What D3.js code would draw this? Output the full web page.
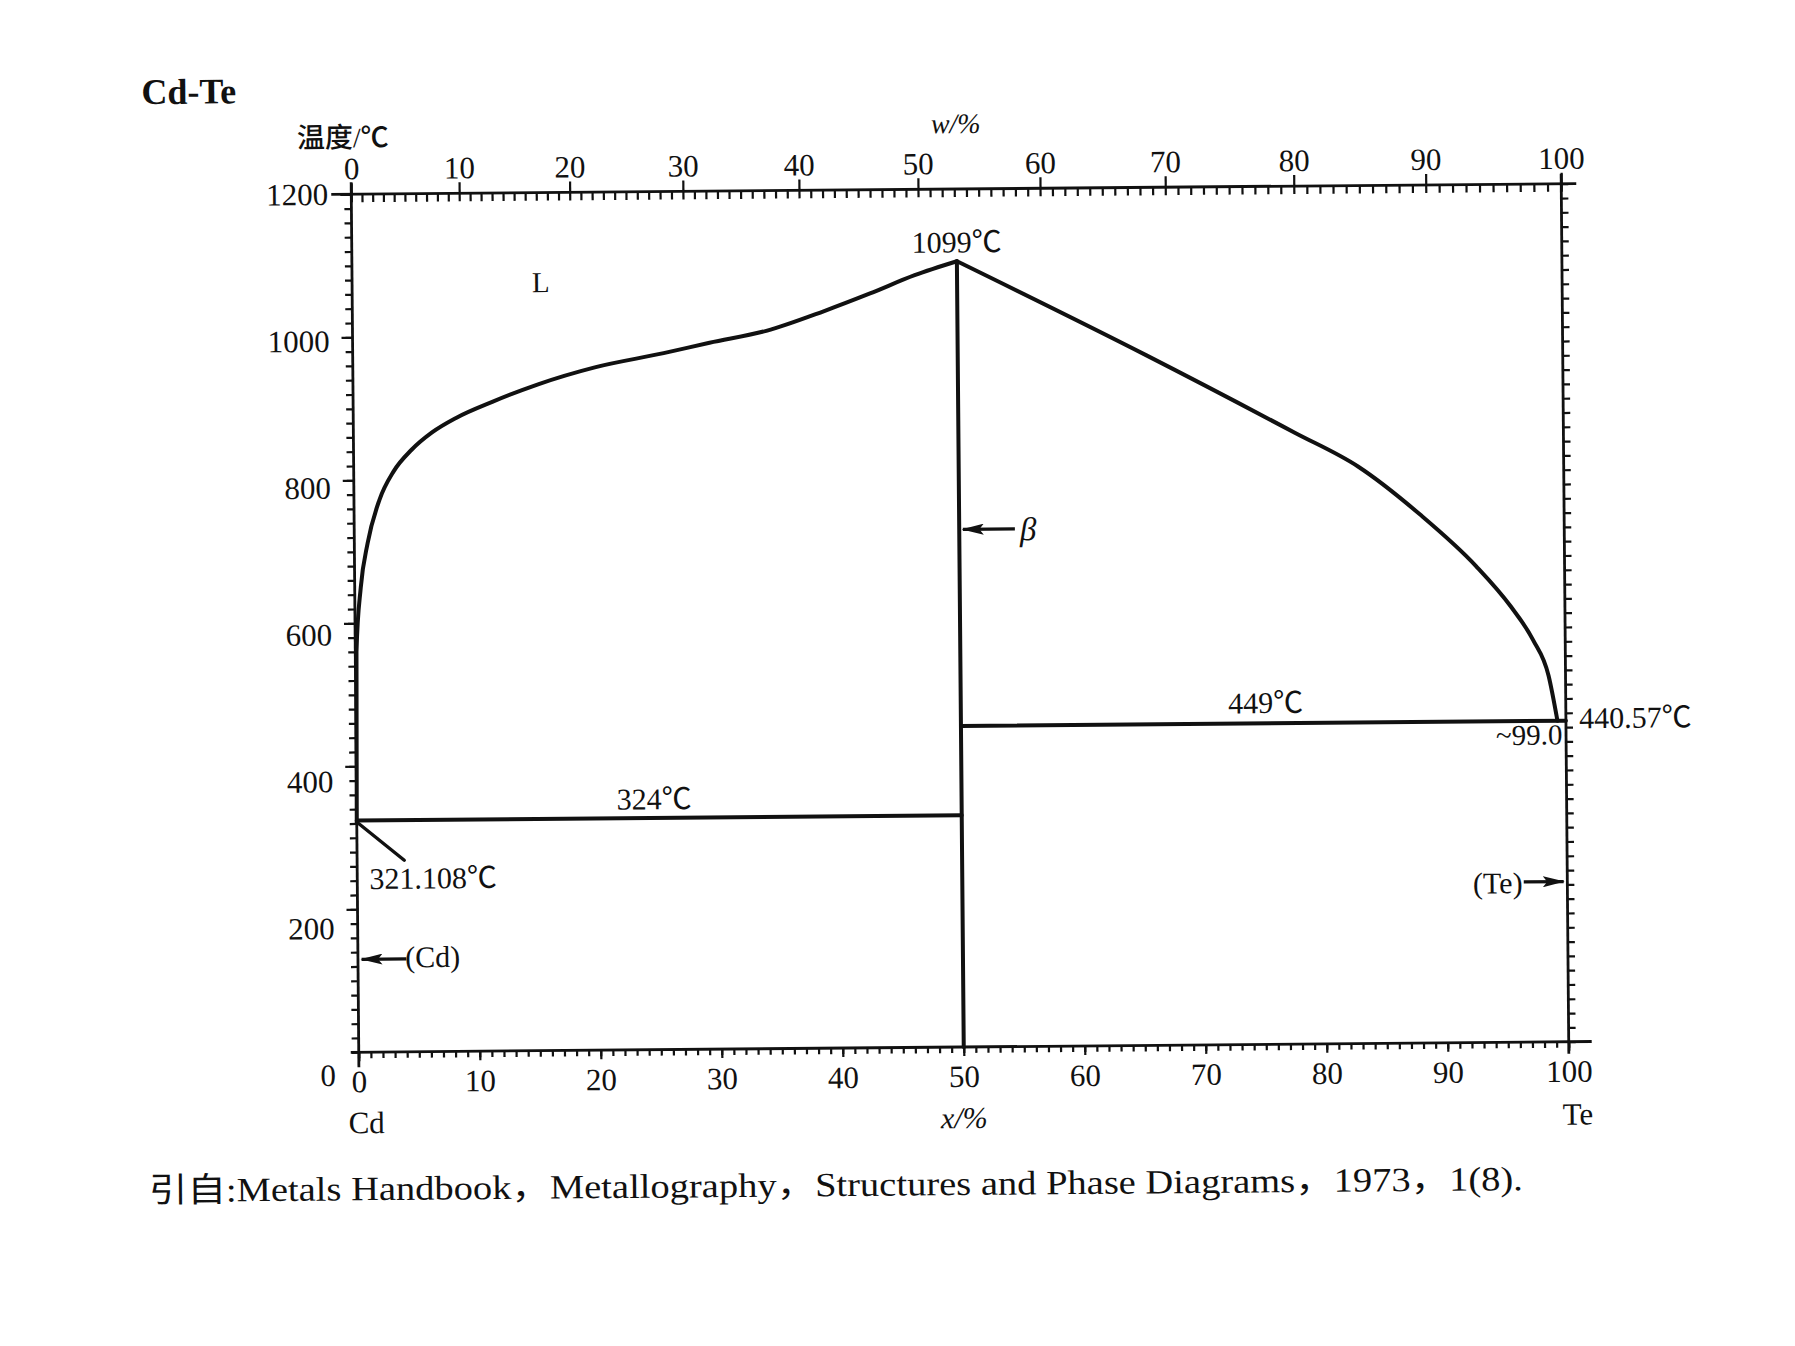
<!DOCTYPE html>
<html><head><meta charset="utf-8">
<script src="https://cdn.jsdelivr.net/npm/d3@7"></script>
<style>
body{margin:0;background:#fff;}
svg{display:block;background:#fff;}
text{font-family:"Liberation Serif","Times New Roman","Noto Sans CJK SC",serif;fill:#111;}
</style></head><body>
<svg id="chart" width="1795" height="1346"></svg>
<script>
// ---------- data ----------
const chartTitle = "Cd-Te";
const yAxisTitle = "温度/℃";
const topAxisTitle = "w/%";
const bottomAxisTitle = "x/%";
const leftElement = "Cd";
const rightElement = "Te";
const caption = "引自:Metals Handbook，Metallography，Structures and Phase Diagrams，1973，1(8).";

const tempTicks = [0, 200, 400, 600, 800, 1000, 1200];
const tempMinorStep = 20;
const molTicks = [0, 10, 20, 30, 40, 50, 60, 70, 80, 90, 100];
const wtTicks = [0, 10, 20, 30, 40, 50, 60, 70, 80, 90, 100];
const atomicWeightCd = 112.41;
const atomicWeightTe = 127.60;

// liquidus, Cd side  [x(at.% Te), T(°C)]
const liquidusCd = [[0,321],[0.1,560],[0.5,650],[1.1,712],[2.1,772],[3.3,812],[4.8,842],
  [6.5,866],[8.5,886],[11.5,908],[15.3,932],[20,955],[25.7,974],[29.5,988],[34.2,1004],
  [39,1031],[42.8,1055],[46.5,1080],[50,1099]];
// liquidus, Te side
const liquidusTe = [[50,1099],[65.6,965],[77.8,855],[83,807],[88.1,739],[92.7,666],
  [95.5,610],[97.35,562],[98.6,512],[99.3,449]];
const compoundLine = [[50,1099],[50,0]];
const eutecticCd = [[0,324],[50,324]];
const eutecticTe = [[50,449],[100,449]];
const leaderCd = [[0,322],[3.9,268]];
const arrowsData = [
  {from:[54.6,724], to:[50.3,724]},
  {from:[4.0,130], to:[0.3,130]},
  {from:[96.4,224], to:[99.7,224]}
];
const labelsData = [
  {text:"L", x:15.6, t:1075, anchor:"middle", size:29},
  {text:"1099℃", x:50, t:1126, anchor:"middle", size:30},
  {text:"β", x:55.7, t:724, anchor:"middle", size:33, italic:true},
  {text:"449℃", x:75.2, t:478, anchor:"middle", size:30},
  {text:"~99.0", x:99.7, t:430, anchor:"end", size:29},
  {text:"440.57℃", x:101.1, t:453, anchor:"start", size:30},
  {text:"324℃", x:24.6, t:351, anchor:"middle", size:30},
  {text:"321.108℃", x:1.0, t:243, anchor:"start", size:30},
  {text:"(Cd)", x:3.9, t:133, anchor:"start", size:30},
  {text:"(Te)", x:96.3, t:223, anchor:"end", size:30}
];

// ---------- layout ----------
const X0 = 355, X1 = 1565, Y0 = 189, Y1 = 1047;
const svg = d3.select("#chart");
const root = svg.append("g").attr("transform", "rotate(-0.5,960,618)");

const x = d3.scaleLinear().domain([0,100]).range([X0, X1]);
const y = d3.scaleLinear().domain([0,1200]).range([Y1, Y0]);
// printed temperature labels drift slightly from the ticks in the original drawing
const yLab = d3.scaleLinear().domain([0,1200]).range([Y1 + 23, Y0]);
const wToX = w => { const a = w/atomicWeightTe, b = (100-w)/atomicWeightCd; return 100*a/(a+b); };
const wtMinor = d3.range(0, 101, 1);
const xw = d3.scaleLinear().domain(wtMinor).range(wtMinor.map(w => x(wToX(w))));
const tempMinor = d3.range(0, 1201, tempMinorStep);
const fmt = d3.format("d");

const ink = "#111";
function clean(g){ g.select(".domain").remove(); g.attr("color", ink).attr("font-family", null); g.selectAll(".tick line").attr("stroke-width", 2.2); }

// defs
const defs = svg.append("defs");
defs.append("marker").attr("id","arr").attr("viewBox","0 0 20 10")
  .attr("refX",19).attr("refY",5).attr("markerWidth",22).attr("markerHeight",11)
  .attr("markerUnits","userSpaceOnUse").attr("orient","auto")
  .append("path").attr("d","M0,0 L20,5 L0,10 L4,5 Z").attr("fill", ink);

// left axis
root.append("g").attr("transform",`translate(${X0},0)`)
  .call(d3.axisLeft(y).tickValues(tempMinor).tickSize(7).tickFormat("")).call(clean);
root.append("g").attr("transform",`translate(${X0},0)`)
  .call(d3.axisLeft(y).tickValues(tempTicks.filter(v=>v>0)).tickSize(11).tickFormat("")).call(clean);
root.append("g").attr("transform",`translate(${X0},0)`)
  .call(d3.axisLeft(yLab).tickValues(tempTicks).tickFormat(fmt).tickSize(0).tickPadding(23)).call(clean)
  .attr("font-size", 31).call(g => g.selectAll(".tick line").remove());

// right axis
root.append("g").attr("transform",`translate(${X1},0)`)
  .call(d3.axisRight(y).tickValues(tempMinor).tickSize(7).tickFormat("")).call(clean);

// top axis (w %)
root.append("g").attr("transform",`translate(0,${Y0})`)
  .call(d3.axisTop(xw).tickValues(wtMinor).tickSize(-8).tickFormat("")).call(clean);
root.append("g").attr("transform",`translate(0,${Y0})`)
  .call(d3.axisTop(xw).tickValues(wtTicks).tickFormat(fmt).tickSize(11).tickPadding(4)).call(clean)
  .attr("font-size", 31);

// bottom axis (x %)
root.append("g").attr("transform",`translate(0,${Y1})`)
  .call(d3.axisBottom(x).tickValues(d3.range(0,101,1)).tickSize(6).tickFormat("")).call(clean);
root.append("g").attr("transform",`translate(0,${Y1})`)
  .call(d3.axisBottom(x).tickValues(molTicks).tickFormat(fmt).tickSize(9).tickPadding(9)).call(clean)
  .attr("font-size", 31);

// frame lines
const frame = root.append("g").attr("stroke", ink).attr("stroke-width", 2.8);
frame.append("line").attr("x1", X0-20).attr("x2", X1+15).attr("y1", Y0).attr("y2", Y0);
frame.append("line").attr("x1", X0-8).attr("x2", X1+23).attr("y1", Y1).attr("y2", Y1);
frame.append("line").attr("x1", X0).attr("x2", X0).attr("y1", Y0-12).attr("y2", Y1+15);
frame.append("line").attr("x1", X1).attr("x2", X1).attr("y1", Y0-10).attr("y2", Y1+12);

// phase lines
const line = d3.line().x(d => x(d[0])).y(d => y(d[1]));
const curve = d3.line().x(d => x(d[0])).y(d => y(d[1])).curve(d3.curveMonotoneX);
const pl = root.append("g").attr("fill","none").attr("stroke", ink)
  .attr("stroke-width", 4).attr("stroke-linejoin","round").attr("stroke-linecap","round");
pl.append("path").attr("d", curve(liquidusCd));
pl.append("path").attr("d", curve(liquidusTe));
pl.append("path").attr("d", line(compoundLine));
pl.append("path").attr("d", line(eutecticCd));
pl.append("path").attr("d", line(eutecticTe));
pl.append("path").attr("d", line(leaderCd)).attr("stroke-width", 3.4);

// arrows
root.append("g").selectAll("path").data(arrowsData).join("path")
  .attr("d", d => line([d.from, d.to])).attr("stroke", ink).attr("stroke-width", 3.2)
  .attr("fill","none").attr("marker-end","url(#arr)");

// annotations
root.append("g").selectAll("text").data(labelsData).join("text")
  .attr("x", d => x(d.x)).attr("y", d => y(d.t)).attr("dy","0.35em")
  .attr("text-anchor", d => d.anchor).attr("font-size", d => d.size)
  .attr("font-style", d => d.italic ? "italic" : null)
  .text(d => d.text);

// axis titles
root.append("text").attr("x", 347).attr("y", 142).attr("text-anchor","middle")
  .attr("font-size", 28).attr("font-weight", 500).text(yAxisTitle);
root.append("text").attr("x", x(50)).attr("y", Y0 - 56).attr("text-anchor","middle")
  .attr("font-size", 28).attr("font-style","italic").text(topAxisTitle);
root.append("text").attr("x", x(50)).attr("y", Y1 + 81).attr("text-anchor","middle")
  .attr("font-size", 30).attr("font-style","italic").text(bottomAxisTitle);
root.append("text").attr("x", x(0.6)).attr("y", Y1 + 81).attr("text-anchor","middle")
  .attr("font-size", 31).text(leftElement);
root.append("text").attr("x", x(100.7)).attr("y", Y1 + 83).attr("text-anchor","middle")
  .attr("font-size", 31).text(rightElement);

// title & caption
root.append("text").attr("x", 146).attr("y", 97).attr("font-size", 36)
  .attr("font-weight","bold").text(chartTitle);
root.append("text").attr("x", 144).attr("y", 1195).attr("font-size", 34)
  .attr("textLength", 1374).attr("lengthAdjust","spacingAndGlyphs").text(caption);
</script>
</body></html>
